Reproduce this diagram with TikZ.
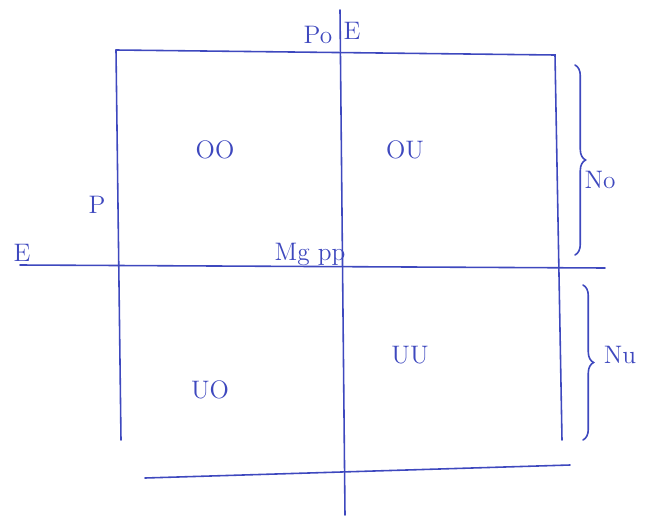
\documentclass[tikz,border=0pt]{standalone}
\usepackage{tikz}
\usetikzlibrary{decorations.pathreplacing}
\definecolor{pen-blue}{RGB}{62,72,190}

\begin{document}
\begin{tikzpicture}[
    pen/.style={draw=pen-blue, line width=0.9pt, line cap=round},
    lbl/.style={text=pen-blue, font=\Large, inner sep=1pt},
    brc/.style={pen, decorate, decoration={brace, amplitude=6pt}},
]
\useasboundingbox (0,0) rectangle (12.9,-10.36);

% frame corners
\coordinate (tl) at (2.32,-1.0);
\coordinate (tr) at (11.1,-1.1);
\coordinate (bl) at (2.42,-8.8);
\coordinate (br) at (11.24,-8.8);
\coordinate (bs) at (2.9,-9.56);
\coordinate (be) at (11.4,-9.3);

% axes ends
\coordinate (vtop) at (6.8,-0.2);
\coordinate (vbot) at (6.9,-10.3);
\coordinate (hleft) at (0.4,-5.3);
\coordinate (hright) at (12.1,-5.36);

% brace ends
\coordinate (ua) at (11.5,-1.3);
\coordinate (ub) at (11.5,-5.1);
\coordinate (la) at (11.66,-5.7);
\coordinate (lb) at (11.66,-8.8);

\draw[pen] (tl) -- (tr) -- (br);
\draw[pen] (tl) -- (bl);
\draw[pen] (bs) -- (be);
\draw[pen] (vtop) -- (vbot);
\draw[pen] (hleft) -- (hright);

\draw[brc] (ua) -- (ub);
\draw[brc] (la) -- (lb);

\node[lbl] (oo) at (4.3,-3.0) {OO};
\node[lbl] (ou) at (8.1,-3.0) {OU};
\node[lbl] (uo) at (4.2,-7.8) {UO};
\node[lbl] (uu) at (8.2,-7.1) {UU};

\node[lbl] (po) at (6.36,-0.7) {Po};
\node[lbl] (etop) at (7.04,-0.62) {E};
\node[lbl] (pleft) at (1.94,-4.1) {P};
\node[lbl] (eleft) at (0.44,-5.05) {E};
\node[lbl] (mg) at (6.2,-5.08) {Mg pp};
\node[lbl] (no) at (12.0,-3.6) {No};
\node[lbl] (nu) at (12.4,-7.1) {Nu};

\end{tikzpicture}
\end{document}
